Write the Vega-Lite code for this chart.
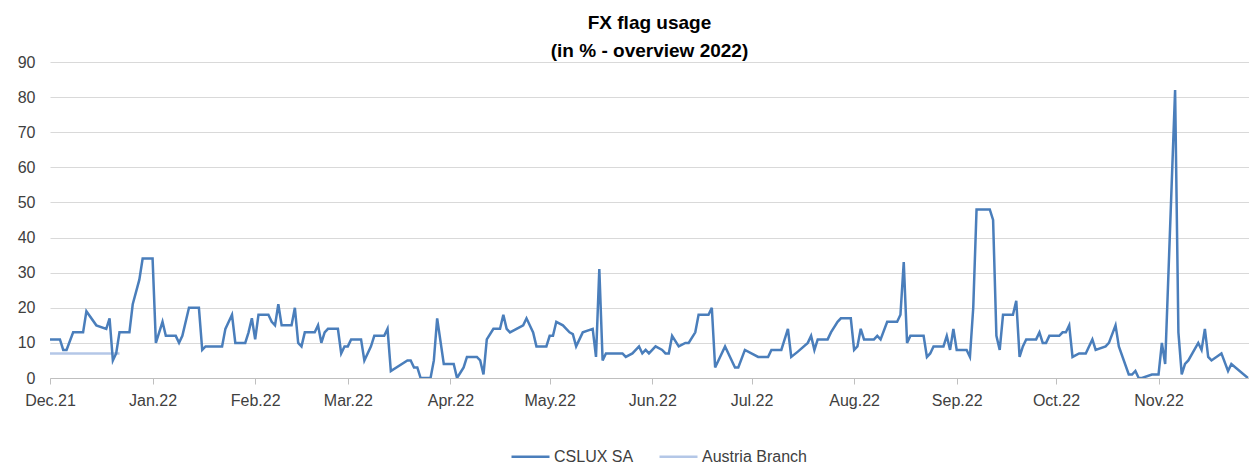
{
  "$schema": "https://vega.github.io/schema/vega-lite/v6.json",
  "width": 1199,
  "height": 316,
  "autosize": {"type": "none"},
  "padding": {"left": 50, "top": 62, "right": 0, "bottom": 86},
  "background": "white",
  "title": {
    "text": ["FX flag usage", "(in % - overview 2022)"],
    "font": "Liberation Sans",
    "fontSize": 19,
    "fontWeight": "bold",
    "color": "#000000",
    "anchor": "middle",
    "frame": "group",
    "lineHeight": 28,
    "offset": -7
  },
  "config": {"view": {"stroke": null}, "font": "Liberation Sans"},
  "data": {
    "values": [
      {"series": "Austria Branch", "date": "2021-12-01", "v": 7},
      {"series": "Austria Branch", "date": "2021-12-22", "v": 7},
      {"series": "CSLUX SA", "date": "2021-12-01", "v": 11},
      {"series": "CSLUX SA", "date": "2021-12-04", "v": 11},
      {"series": "CSLUX SA", "date": "2021-12-05", "v": 8},
      {"series": "CSLUX SA", "date": "2021-12-06", "v": 8},
      {"series": "CSLUX SA", "date": "2021-12-08", "v": 13},
      {"series": "CSLUX SA", "date": "2021-12-11", "v": 13},
      {"series": "CSLUX SA", "date": "2021-12-12", "v": 19},
      {"series": "CSLUX SA", "date": "2021-12-15", "v": 15},
      {"series": "CSLUX SA", "date": "2021-12-18", "v": 14},
      {"series": "CSLUX SA", "date": "2021-12-19", "v": 17},
      {"series": "CSLUX SA", "date": "2021-12-20", "v": 5},
      {"series": "CSLUX SA", "date": "2021-12-21", "v": 7},
      {"series": "CSLUX SA", "date": "2021-12-22", "v": 13},
      {"series": "CSLUX SA", "date": "2021-12-25", "v": 13},
      {"series": "CSLUX SA", "date": "2021-12-26", "v": 21},
      {"series": "CSLUX SA", "date": "2021-12-28", "v": 28},
      {"series": "CSLUX SA", "date": "2021-12-29", "v": 34},
      {"series": "CSLUX SA", "date": "2022-01-01", "v": 34},
      {"series": "CSLUX SA", "date": "2022-01-02", "v": 10},
      {"series": "CSLUX SA", "date": "2022-01-04", "v": 16},
      {"series": "CSLUX SA", "date": "2022-01-05", "v": 12},
      {"series": "CSLUX SA", "date": "2022-01-08", "v": 12},
      {"series": "CSLUX SA", "date": "2022-01-09", "v": 10},
      {"series": "CSLUX SA", "date": "2022-01-10", "v": 12},
      {"series": "CSLUX SA", "date": "2022-01-12", "v": 20},
      {"series": "CSLUX SA", "date": "2022-01-15", "v": 20},
      {"series": "CSLUX SA", "date": "2022-01-16", "v": 8},
      {"series": "CSLUX SA", "date": "2022-01-17", "v": 9},
      {"series": "CSLUX SA", "date": "2022-01-22", "v": 9},
      {"series": "CSLUX SA", "date": "2022-01-23", "v": 14},
      {"series": "CSLUX SA", "date": "2022-01-25", "v": 18},
      {"series": "CSLUX SA", "date": "2022-01-26", "v": 10},
      {"series": "CSLUX SA", "date": "2022-01-29", "v": 10},
      {"series": "CSLUX SA", "date": "2022-01-30", "v": 13},
      {"series": "CSLUX SA", "date": "2022-01-31", "v": 17},
      {"series": "CSLUX SA", "date": "2022-02-01", "v": 11},
      {"series": "CSLUX SA", "date": "2022-02-02", "v": 18},
      {"series": "CSLUX SA", "date": "2022-02-05", "v": 18},
      {"series": "CSLUX SA", "date": "2022-02-06", "v": 16},
      {"series": "CSLUX SA", "date": "2022-02-07", "v": 15},
      {"series": "CSLUX SA", "date": "2022-02-08", "v": 21},
      {"series": "CSLUX SA", "date": "2022-02-09", "v": 15},
      {"series": "CSLUX SA", "date": "2022-02-12", "v": 15},
      {"series": "CSLUX SA", "date": "2022-02-13", "v": 20},
      {"series": "CSLUX SA", "date": "2022-02-14", "v": 10},
      {"series": "CSLUX SA", "date": "2022-02-15", "v": 9},
      {"series": "CSLUX SA", "date": "2022-02-16", "v": 13},
      {"series": "CSLUX SA", "date": "2022-02-19", "v": 13},
      {"series": "CSLUX SA", "date": "2022-02-20", "v": 15},
      {"series": "CSLUX SA", "date": "2022-02-21", "v": 10},
      {"series": "CSLUX SA", "date": "2022-02-22", "v": 13},
      {"series": "CSLUX SA", "date": "2022-02-23", "v": 14},
      {"series": "CSLUX SA", "date": "2022-02-26", "v": 14},
      {"series": "CSLUX SA", "date": "2022-02-27", "v": 7},
      {"series": "CSLUX SA", "date": "2022-02-28", "v": 9},
      {"series": "CSLUX SA", "date": "2022-03-01", "v": 9},
      {"series": "CSLUX SA", "date": "2022-03-02", "v": 11},
      {"series": "CSLUX SA", "date": "2022-03-05", "v": 11},
      {"series": "CSLUX SA", "date": "2022-03-06", "v": 5},
      {"series": "CSLUX SA", "date": "2022-03-08", "v": 9},
      {"series": "CSLUX SA", "date": "2022-03-09", "v": 12},
      {"series": "CSLUX SA", "date": "2022-03-12", "v": 12},
      {"series": "CSLUX SA", "date": "2022-03-13", "v": 14},
      {"series": "CSLUX SA", "date": "2022-03-14", "v": 2},
      {"series": "CSLUX SA", "date": "2022-03-19", "v": 5},
      {"series": "CSLUX SA", "date": "2022-03-20", "v": 5},
      {"series": "CSLUX SA", "date": "2022-03-21", "v": 3},
      {"series": "CSLUX SA", "date": "2022-03-22", "v": 3},
      {"series": "CSLUX SA", "date": "2022-03-23", "v": 0},
      {"series": "CSLUX SA", "date": "2022-03-26", "v": 0},
      {"series": "CSLUX SA", "date": "2022-03-27", "v": 5},
      {"series": "CSLUX SA", "date": "2022-03-28", "v": 17},
      {"series": "CSLUX SA", "date": "2022-03-30", "v": 4},
      {"series": "CSLUX SA", "date": "2022-04-02", "v": 4},
      {"series": "CSLUX SA", "date": "2022-04-03", "v": 0},
      {"series": "CSLUX SA", "date": "2022-04-04", "v": 1.5},
      {"series": "CSLUX SA", "date": "2022-04-05", "v": 3},
      {"series": "CSLUX SA", "date": "2022-04-06", "v": 6},
      {"series": "CSLUX SA", "date": "2022-04-09", "v": 6},
      {"series": "CSLUX SA", "date": "2022-04-10", "v": 5},
      {"series": "CSLUX SA", "date": "2022-04-11", "v": 1},
      {"series": "CSLUX SA", "date": "2022-04-12", "v": 11},
      {"series": "CSLUX SA", "date": "2022-04-14", "v": 14},
      {"series": "CSLUX SA", "date": "2022-04-16", "v": 14},
      {"series": "CSLUX SA", "date": "2022-04-17", "v": 18},
      {"series": "CSLUX SA", "date": "2022-04-18", "v": 14},
      {"series": "CSLUX SA", "date": "2022-04-19", "v": 13},
      {"series": "CSLUX SA", "date": "2022-04-21", "v": 14},
      {"series": "CSLUX SA", "date": "2022-04-23", "v": 15},
      {"series": "CSLUX SA", "date": "2022-04-24", "v": 17},
      {"series": "CSLUX SA", "date": "2022-04-26", "v": 13},
      {"series": "CSLUX SA", "date": "2022-04-27", "v": 9},
      {"series": "CSLUX SA", "date": "2022-04-30", "v": 9},
      {"series": "CSLUX SA", "date": "2022-05-01", "v": 12},
      {"series": "CSLUX SA", "date": "2022-05-02", "v": 12},
      {"series": "CSLUX SA", "date": "2022-05-03", "v": 16},
      {"series": "CSLUX SA", "date": "2022-05-05", "v": 15},
      {"series": "CSLUX SA", "date": "2022-05-07", "v": 13},
      {"series": "CSLUX SA", "date": "2022-05-08", "v": 12.5},
      {"series": "CSLUX SA", "date": "2022-05-09", "v": 9},
      {"series": "CSLUX SA", "date": "2022-05-11", "v": 13},
      {"series": "CSLUX SA", "date": "2022-05-14", "v": 14},
      {"series": "CSLUX SA", "date": "2022-05-15", "v": 6},
      {"series": "CSLUX SA", "date": "2022-05-16", "v": 31},
      {"series": "CSLUX SA", "date": "2022-05-17", "v": 5},
      {"series": "CSLUX SA", "date": "2022-05-18", "v": 7},
      {"series": "CSLUX SA", "date": "2022-05-23", "v": 7},
      {"series": "CSLUX SA", "date": "2022-05-24", "v": 6},
      {"series": "CSLUX SA", "date": "2022-05-26", "v": 7},
      {"series": "CSLUX SA", "date": "2022-05-28", "v": 9},
      {"series": "CSLUX SA", "date": "2022-05-29", "v": 7},
      {"series": "CSLUX SA", "date": "2022-05-30", "v": 8},
      {"series": "CSLUX SA", "date": "2022-05-31", "v": 7},
      {"series": "CSLUX SA", "date": "2022-06-02", "v": 9},
      {"series": "CSLUX SA", "date": "2022-06-04", "v": 8},
      {"series": "CSLUX SA", "date": "2022-06-05", "v": 7},
      {"series": "CSLUX SA", "date": "2022-06-06", "v": 7},
      {"series": "CSLUX SA", "date": "2022-06-07", "v": 12},
      {"series": "CSLUX SA", "date": "2022-06-09", "v": 9},
      {"series": "CSLUX SA", "date": "2022-06-11", "v": 10},
      {"series": "CSLUX SA", "date": "2022-06-12", "v": 10},
      {"series": "CSLUX SA", "date": "2022-06-14", "v": 13},
      {"series": "CSLUX SA", "date": "2022-06-15", "v": 18},
      {"series": "CSLUX SA", "date": "2022-06-18", "v": 18},
      {"series": "CSLUX SA", "date": "2022-06-19", "v": 20},
      {"series": "CSLUX SA", "date": "2022-06-20", "v": 3},
      {"series": "CSLUX SA", "date": "2022-06-23", "v": 9},
      {"series": "CSLUX SA", "date": "2022-06-26", "v": 3},
      {"series": "CSLUX SA", "date": "2022-06-27", "v": 3},
      {"series": "CSLUX SA", "date": "2022-06-29", "v": 8},
      {"series": "CSLUX SA", "date": "2022-07-03", "v": 6},
      {"series": "CSLUX SA", "date": "2022-07-06", "v": 6},
      {"series": "CSLUX SA", "date": "2022-07-07", "v": 8},
      {"series": "CSLUX SA", "date": "2022-07-10", "v": 8},
      {"series": "CSLUX SA", "date": "2022-07-12", "v": 14},
      {"series": "CSLUX SA", "date": "2022-07-13", "v": 6},
      {"series": "CSLUX SA", "date": "2022-07-15", "v": 7.5},
      {"series": "CSLUX SA", "date": "2022-07-18", "v": 10},
      {"series": "CSLUX SA", "date": "2022-07-19", "v": 12},
      {"series": "CSLUX SA", "date": "2022-07-20", "v": 8},
      {"series": "CSLUX SA", "date": "2022-07-21", "v": 11},
      {"series": "CSLUX SA", "date": "2022-07-24", "v": 11},
      {"series": "CSLUX SA", "date": "2022-07-25", "v": 13},
      {"series": "CSLUX SA", "date": "2022-07-27", "v": 16},
      {"series": "CSLUX SA", "date": "2022-07-28", "v": 17},
      {"series": "CSLUX SA", "date": "2022-07-31", "v": 17},
      {"series": "CSLUX SA", "date": "2022-08-01", "v": 8},
      {"series": "CSLUX SA", "date": "2022-08-02", "v": 9},
      {"series": "CSLUX SA", "date": "2022-08-03", "v": 14},
      {"series": "CSLUX SA", "date": "2022-08-04", "v": 11},
      {"series": "CSLUX SA", "date": "2022-08-07", "v": 11},
      {"series": "CSLUX SA", "date": "2022-08-08", "v": 12},
      {"series": "CSLUX SA", "date": "2022-08-09", "v": 11},
      {"series": "CSLUX SA", "date": "2022-08-11", "v": 16},
      {"series": "CSLUX SA", "date": "2022-08-14", "v": 16},
      {"series": "CSLUX SA", "date": "2022-08-15", "v": 18},
      {"series": "CSLUX SA", "date": "2022-08-16", "v": 33},
      {"series": "CSLUX SA", "date": "2022-08-17", "v": 10},
      {"series": "CSLUX SA", "date": "2022-08-18", "v": 12},
      {"series": "CSLUX SA", "date": "2022-08-22", "v": 12},
      {"series": "CSLUX SA", "date": "2022-08-23", "v": 6},
      {"series": "CSLUX SA", "date": "2022-08-24", "v": 7},
      {"series": "CSLUX SA", "date": "2022-08-25", "v": 9},
      {"series": "CSLUX SA", "date": "2022-08-28", "v": 9},
      {"series": "CSLUX SA", "date": "2022-08-29", "v": 12},
      {"series": "CSLUX SA", "date": "2022-08-30", "v": 8},
      {"series": "CSLUX SA", "date": "2022-08-31", "v": 14},
      {"series": "CSLUX SA", "date": "2022-09-01", "v": 8},
      {"series": "CSLUX SA", "date": "2022-09-04", "v": 8},
      {"series": "CSLUX SA", "date": "2022-09-05", "v": 6},
      {"series": "CSLUX SA", "date": "2022-09-06", "v": 20},
      {"series": "CSLUX SA", "date": "2022-09-07", "v": 48},
      {"series": "CSLUX SA", "date": "2022-09-11", "v": 48},
      {"series": "CSLUX SA", "date": "2022-09-12", "v": 45},
      {"series": "CSLUX SA", "date": "2022-09-13", "v": 12},
      {"series": "CSLUX SA", "date": "2022-09-14", "v": 8},
      {"series": "CSLUX SA", "date": "2022-09-15", "v": 18},
      {"series": "CSLUX SA", "date": "2022-09-18", "v": 18},
      {"series": "CSLUX SA", "date": "2022-09-19", "v": 22},
      {"series": "CSLUX SA", "date": "2022-09-20", "v": 6},
      {"series": "CSLUX SA", "date": "2022-09-21", "v": 9},
      {"series": "CSLUX SA", "date": "2022-09-22", "v": 11},
      {"series": "CSLUX SA", "date": "2022-09-25", "v": 11},
      {"series": "CSLUX SA", "date": "2022-09-26", "v": 13},
      {"series": "CSLUX SA", "date": "2022-09-27", "v": 10},
      {"series": "CSLUX SA", "date": "2022-09-28", "v": 10},
      {"series": "CSLUX SA", "date": "2022-09-29", "v": 12},
      {"series": "CSLUX SA", "date": "2022-10-02", "v": 12},
      {"series": "CSLUX SA", "date": "2022-10-03", "v": 13},
      {"series": "CSLUX SA", "date": "2022-10-04", "v": 13},
      {"series": "CSLUX SA", "date": "2022-10-05", "v": 15},
      {"series": "CSLUX SA", "date": "2022-10-06", "v": 6},
      {"series": "CSLUX SA", "date": "2022-10-08", "v": 7},
      {"series": "CSLUX SA", "date": "2022-10-10", "v": 7},
      {"series": "CSLUX SA", "date": "2022-10-12", "v": 11},
      {"series": "CSLUX SA", "date": "2022-10-13", "v": 8},
      {"series": "CSLUX SA", "date": "2022-10-16", "v": 9},
      {"series": "CSLUX SA", "date": "2022-10-17", "v": 10},
      {"series": "CSLUX SA", "date": "2022-10-19", "v": 15},
      {"series": "CSLUX SA", "date": "2022-10-20", "v": 9},
      {"series": "CSLUX SA", "date": "2022-10-23", "v": 1},
      {"series": "CSLUX SA", "date": "2022-10-24", "v": 1},
      {"series": "CSLUX SA", "date": "2022-10-25", "v": 2},
      {"series": "CSLUX SA", "date": "2022-10-26", "v": 0},
      {"series": "CSLUX SA", "date": "2022-10-27", "v": 0},
      {"series": "CSLUX SA", "date": "2022-10-30", "v": 1},
      {"series": "CSLUX SA", "date": "2022-11-01", "v": 1},
      {"series": "CSLUX SA", "date": "2022-11-02", "v": 10},
      {"series": "CSLUX SA", "date": "2022-11-03", "v": 4},
      {"series": "CSLUX SA", "date": "2022-11-06", "v": 82},
      {"series": "CSLUX SA", "date": "2022-11-07", "v": 13},
      {"series": "CSLUX SA", "date": "2022-11-08", "v": 1},
      {"series": "CSLUX SA", "date": "2022-11-09", "v": 4},
      {"series": "CSLUX SA", "date": "2022-11-10", "v": 5},
      {"series": "CSLUX SA", "date": "2022-11-13", "v": 10},
      {"series": "CSLUX SA", "date": "2022-11-14", "v": 8},
      {"series": "CSLUX SA", "date": "2022-11-15", "v": 14},
      {"series": "CSLUX SA", "date": "2022-11-16", "v": 6},
      {"series": "CSLUX SA", "date": "2022-11-17", "v": 5},
      {"series": "CSLUX SA", "date": "2022-11-20", "v": 7},
      {"series": "CSLUX SA", "date": "2022-11-22", "v": 2},
      {"series": "CSLUX SA", "date": "2022-11-23", "v": 4},
      {"series": "CSLUX SA", "date": "2022-11-28", "v": 0}
    ]
  },
  "mark": {"type": "line", "strokeWidth": 2.5, "clip": true},
  "encoding": {
    "x": {
      "field": "date",
      "type": "temporal",
      "scale": {
        "type": "utc",
        "domain": [
          {"year": 2021, "month": 12, "date": 1, "utc": true},
          {"year": 2022, "month": 11, "date": 28, "hours": 8, "utc": true}
        ]
      },
      "axis": {
        "title": null,
        "tickCount": {"interval": "month", "step": 1},
        "labelExpr": "utcFormat(datum.value, '%b.%y')",
        "grid": false,
        "domainColor": "#bfbfbf",
        "domainWidth": 1,
        "tickColor": "#bfbfbf",
        "tickSize": 6,
        "labelPadding": 8,
        "labelFontSize": 16,
        "labelColor": "#404040",
        "labelFlush": false,
        "labelOverlap": false,
        "labelBound": false
      }
    },
    "y": {
      "field": "v",
      "type": "quantitative",
      "scale": {"domain": [0, 90], "nice": false},
      "axis": {
        "title": null,
        "values": [0, 10, 20, 30, 40, 50, 60, 70, 80, 90],
        "grid": true,
        "gridColor": "#d9d9d9",
        "gridWidth": 1,
        "domain": false,
        "ticks": false,
        "labelPadding": 15,
        "labelFontSize": 16,
        "labelColor": "#404040"
      }
    },
    "color": {
      "field": "series",
      "type": "nominal",
      "scale": {"domain": ["CSLUX SA", "Austria Branch"], "range": ["#4a7ebb", "#b4c7e7"]},
      "legend": {
        "title": null,
        "orient": "none",
        "legendX": 460,
        "legendY": 374,
        "direction": "horizontal",
        "symbolType": "stroke",
        "symbolSize": 1444,
        "symbolStrokeWidth": 2.5,
        "labelFontSize": 16,
        "labelColor": "#404040",
        "labelOffset": 3,
        "columnPadding": 20,
        "padding": 0
      }
    }
  }
}
